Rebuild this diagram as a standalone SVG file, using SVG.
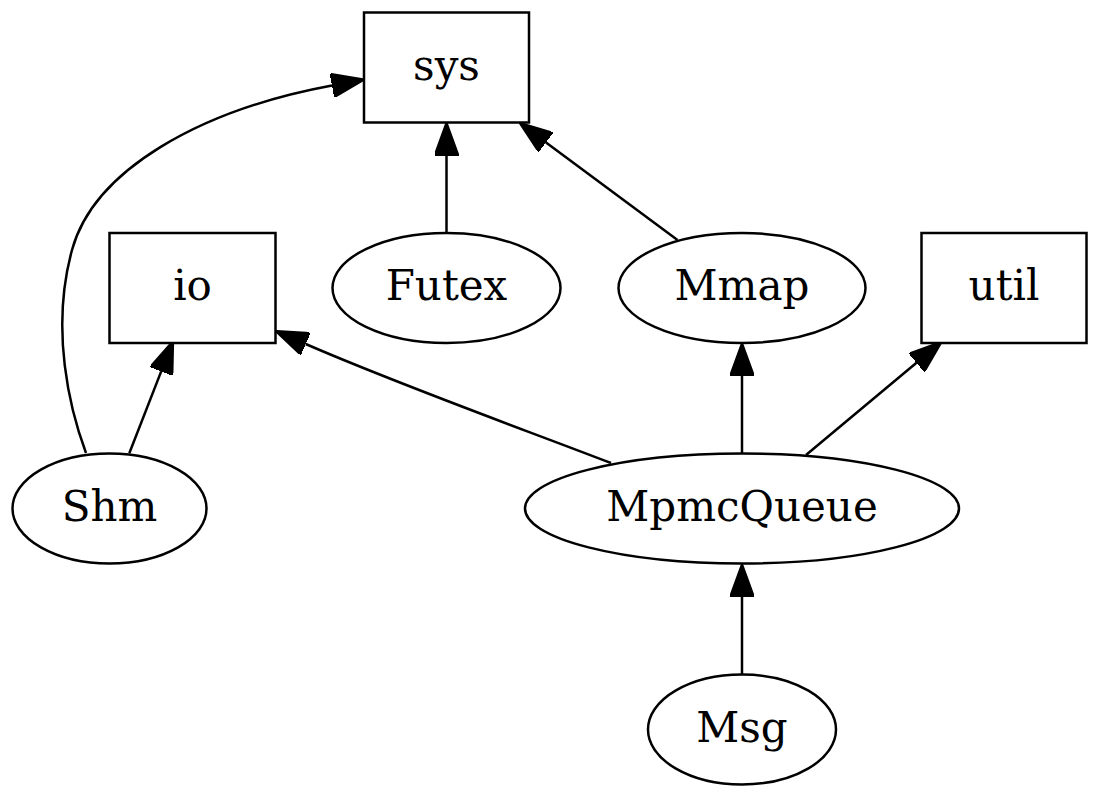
<svg xmlns="http://www.w3.org/2000/svg" width="1097" height="797" viewBox="0 0 1097 797">
<style>
.n{fill:#fff;stroke:#000;stroke-width:2.5}
.t{font-family:"DejaVu Serif","Liberation Serif",serif;font-size:42px;text-anchor:middle;fill:#000}
.e{fill:none;stroke:#000;stroke-width:2.5}
</style>
<defs>
<marker id="ah" viewBox="0 0 33 24" refX="0" refY="12" markerWidth="33" markerHeight="24" markerUnits="userSpaceOnUse" orient="auto">
<path d="M0,0 L33,12 L0,24 z" fill="#000" stroke="#000" stroke-width="2"/>
</marker>
</defs>
<rect width="1097" height="797" fill="#fff"/>
<g id="connectors">
<path class="e" marker-end="url(#ah)" d="M446.5,233 L446.5,155.5"/>
<path class="e" marker-end="url(#ah)" d="M677.5,240 L546,142.4"/>
<path class="e" marker-end="url(#ah)" d="M86,453 C70,410 50,330 72,250 C94,170 200,110 332,85.5"/>
<path class="e" marker-end="url(#ah)" d="M129.3,453.3 L161.2,371.4"/>
<path class="e" marker-end="url(#ah)" d="M611,463 C520,428 400,385 305.7,344"/>
<path class="e" marker-end="url(#ah)" d="M742,453 L742,376"/>
<path class="e" marker-end="url(#ah)" d="M806,455 L916.5,362.8"/>
<path class="e" marker-end="url(#ah)" d="M742,674 L742,597"/>
</g>
<g id="sys"><rect class="n" x="364" y="12.5" width="165" height="110"/><text class="t" x="446.5" y="79.5">sys</text></g>
<g id="io"><rect class="n" x="109.5" y="233" width="166" height="110"/><text class="t" x="192.5" y="300">io</text></g>
<g id="util"><rect class="n" x="921.5" y="233" width="165" height="110"/><text class="t" x="1004" y="300">util</text></g>
<g id="Futex"><ellipse class="n" cx="446.5" cy="288" rx="114" ry="55"/><text class="t" x="446.5" y="300">Futex</text></g>
<g id="Mmap"><ellipse class="n" cx="742" cy="288" rx="123.5" ry="55"/><text class="t" x="742" y="300">Mmap</text></g>
<g id="Shm"><ellipse class="n" cx="109.5" cy="508.5" rx="97" ry="55"/><text class="t" x="109.5" y="520.5">Shm</text></g>
<g id="MpmcQueue"><ellipse class="n" cx="742" cy="508.5" rx="217" ry="55"/><text class="t" x="742" y="520.5">MpmcQueue</text></g>
<g id="Msg"><ellipse class="n" cx="742" cy="729.5" rx="94" ry="55"/><text class="t" x="742" y="741.5">Msg</text></g>
</svg>
